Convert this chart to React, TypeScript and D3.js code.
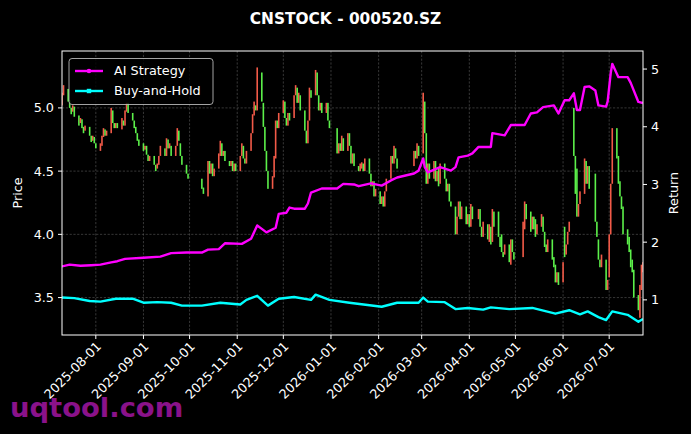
import * as d3 from "d3";

const W = 691;
const H = 434;
const M = { left: 62, right: 643, top: 51, bottom: 335 };
const FONT = "DejaVu Sans, sans-serif";

const title = "CNSTOCK - 000520.SZ";
const startDate = "2025-07-10";
const endDate = "2026-07-23";
// 休市日（工作日中的节假日）
const holidays = [
  "2025-10-01", "2025-10-02", "2025-10-03", "2025-10-06", "2025-10-07", "2025-10-08",
  "2026-01-01", "2026-01-02",
  "2026-02-16", "2026-02-17", "2026-02-18", "2026-02-19", "2026-02-20", "2026-02-23",
  "2026-04-06", "2026-05-01", "2026-05-04", "2026-05-05", "2026-06-19",
];

// K线：开盘 / 收盘（按交易日顺序）
const opens = [
  // 2025-07
  5.02, 5.10, 5.15, 5.06, 5.00, 4.97, 5.01, 4.94, 4.88, 4.91, 4.85, 4.82, 4.85, 4.78, 4.74, 4.77,
  // 2025-08
  4.72, 4.66, 4.70, 4.77, 4.83, 4.78, 4.80, 4.98, 4.88, 4.84, 4.88, 4.83, 4.90, 4.86, 4.97, 5.04, 4.96, 4.90, 4.85, 4.80, 4.75,
  // 2025-09
  4.72, 4.67, 4.70, 4.63, 4.58, 4.62, 4.55, 4.52, 4.55, 4.62, 4.68, 4.62, 4.75, 4.68, 4.70, 4.62, 4.70, 4.82, 4.72, 4.62, 4.55, 4.48,
  // 2025-10
  4.44, 4.37, 4.30, 4.58, 4.48, 4.56, 4.46, 4.52, 4.62, 4.72, 4.62, 4.66, 4.58, 4.54, 4.58, 4.50, 4.56,
  // 2025-11
  4.50, 4.62, 4.70, 4.60, 4.56, 4.66, 4.80, 4.94, 5.02, 4.98, 5.28, 5.04, 4.85, 4.66, 4.50, 4.36, 4.45, 4.60, 4.90, 4.84,
  // 2025-12
  4.96, 5.05, 4.92, 4.86, 4.96, 4.92, 5.10, 5.16, 5.04, 5.10, 4.98, 4.82, 4.72, 4.90, 5.14, 5.10, 5.28, 5.10, 4.98, 5.04, 4.96, 5.04, 4.90,
  // 2026-01
  4.84, 4.64, 4.72, 4.66, 4.76, 4.66, 4.80, 4.70, 4.56, 4.64, 4.54, 4.50, 4.52, 4.56, 4.50, 4.60, 4.48, 4.38, 4.42, 4.30,
  // 2026-02
  4.34, 4.24, 4.30, 4.22, 4.34, 4.44, 4.62, 4.56, 4.68, 4.60, 4.54, 4.66, 4.60, 4.70,
  // 2026-03
  4.64, 5.05, 4.80, 4.40, 4.56, 4.44, 4.58, 4.42, 4.52, 4.40, 4.56, 4.44, 4.34, 4.40, 4.26, 4.22, 4.00, 4.14, 4.26, 4.12, 4.22, 4.08,
  // 2026-04
  4.16, 4.06, 4.22, 4.12, 4.20, 4.06, 3.98, 4.08, 3.94, 4.06, 3.94, 4.18, 4.18, 3.98, 4.00, 3.86, 3.84, 3.92, 3.76, 3.96, 3.86,
  // 2026-05
  3.82, 4.04, 4.24, 4.18, 4.04, 4.14, 4.12, 4.00, 4.06, 4.14, 4.02, 3.92, 3.86, 3.96, 3.82, 3.76, 3.62, 3.70,
  // 2026-06
  3.62, 4.06, 3.84, 3.92, 4.02, 5.00, 4.62, 4.52, 4.14, 4.24, 4.32, 4.58, 4.40, 4.54, 4.48, 4.10, 3.96, 3.80, 3.74, 3.80, 3.56,
  // 2026-07
  3.66, 4.00, 4.40, 4.84, 4.62, 4.42, 4.30, 4.22, 4.04, 3.98, 3.88, 3.80, 3.72, 3.52, 3.34, 3.56, 3.70,
];
const closes = [
  // 2025-07
  5.12, 5.18, 5.05, 5.00, 4.95, 5.02, 4.93, 4.86, 4.92, 4.84, 4.80, 4.86, 4.78, 4.73, 4.78, 4.72,
  // 2025-08
  4.68, 4.72, 4.78, 4.84, 4.78, 4.82, 5.00, 4.88, 4.84, 4.88, 4.84, 4.92, 4.86, 4.98, 5.04, 4.96, 4.90, 4.84, 4.80, 4.74, 4.70,
  // 2025-09
  4.66, 4.70, 4.63, 4.58, 4.62, 4.55, 4.50, 4.56, 4.62, 4.70, 4.62, 4.76, 4.68, 4.72, 4.62, 4.70, 4.84, 4.74, 4.62, 4.55, 4.48, 4.44,
  // 2025-10
  4.36, 4.32, 4.58, 4.48, 4.56, 4.46, 4.52, 4.64, 4.74, 4.62, 4.66, 4.58, 4.54, 4.58, 4.50, 4.56, 4.50,
  // 2025-11
  4.62, 4.72, 4.60, 4.56, 4.66, 4.80, 4.95, 5.05, 4.98, 5.32, 5.05, 4.85, 4.66, 4.50, 4.36, 4.46, 4.62, 4.90, 4.84, 4.96,
  // 2025-12
  5.06, 4.92, 4.86, 4.96, 4.90, 5.10, 5.18, 5.04, 5.12, 4.98, 4.82, 4.72, 4.90, 5.16, 5.08, 5.30, 5.10, 4.98, 5.04, 4.96, 5.04, 4.90, 4.84,
  // 2026-01
  4.64, 4.72, 4.66, 4.78, 4.66, 4.80, 4.70, 4.56, 4.64, 4.54, 4.50, 4.56, 4.57, 4.50, 4.60, 4.48, 4.38, 4.42, 4.30, 4.36,
  // 2026-02
  4.24, 4.30, 4.22, 4.34, 4.44, 4.62, 4.56, 4.70, 4.60, 4.52, 4.66, 4.60, 4.72, 4.62,
  // 2026-03
  5.12, 4.80, 4.40, 4.56, 4.44, 4.58, 4.42, 4.50, 4.38, 4.56, 4.44, 4.34, 4.40, 4.26, 4.22, 4.00, 4.14, 4.26, 4.12, 4.22, 4.08, 4.16,
  // 2026-04
  4.06, 4.24, 4.12, 4.20, 4.06, 3.98, 4.10, 3.96, 4.08, 3.92, 4.20, 4.06, 3.98, 3.90, 3.86, 3.82, 3.92, 3.78, 3.96, 3.86, 3.80,
  // 2026-05
  4.10, 4.26, 4.12, 4.02, 4.14, 4.04, 3.98, 4.08, 4.16, 4.02, 3.90, 3.86, 3.96, 3.80, 3.74, 3.62, 3.70, 3.60,
  // 2026-06
  3.78, 3.82, 3.92, 4.02, 4.10, 4.62, 4.32, 4.14, 4.24, 4.34, 4.60, 4.40, 4.54, 4.36, 4.10, 3.98, 3.80, 3.74, 3.84, 3.56, 3.64,
  // 2026-07
  4.00, 4.40, 4.84, 4.60, 4.40, 4.30, 4.20, 4.00, 3.92, 3.86, 3.74, 3.70, 3.50, 3.40, 3.60, 3.76, 3.78,
];

// 收益曲线（右轴）
const aiDates = [
  "2025-07-10", "2025-07-15", "2025-07-22", "2025-07-29", "2025-08-04", "2025-08-11", "2025-08-15", "2025-08-20",
  "2025-09-01", "2025-09-12", "2025-09-19", "2025-09-29", "2025-10-09", "2025-10-13", "2025-10-20", "2025-10-24",
  "2025-11-04", "2025-11-10", "2025-11-14", "2025-11-17", "2025-11-20", "2025-11-26", "2025-11-28", "2025-12-03",
  "2025-12-05", "2025-12-08", "2025-12-15", "2025-12-17", "2025-12-19", "2025-12-26", "2026-01-05", "2026-01-09",
  "2026-01-16", "2026-01-19", "2026-01-27", "2026-02-03", "2026-02-09", "2026-02-13", "2026-02-24", "2026-02-27",
  "2026-03-02", "2026-03-03", "2026-03-05", "2026-03-13", "2026-03-20", "2026-03-23", "2026-03-25", "2026-03-31",
  "2026-04-03", "2026-04-07", "2026-04-15", "2026-04-16", "2026-04-24", "2026-04-28", "2026-05-07", "2026-05-11",
  "2026-05-15", "2026-05-19", "2026-05-26", "2026-05-29", "2026-06-02", "2026-06-05", "2026-06-08", "2026-06-10",
  "2026-06-12", "2026-06-15", "2026-06-18", "2026-06-22", "2026-06-24", "2026-06-29", "2026-06-30", "2026-07-02",
  "2026-07-03", "2026-07-07", "2026-07-13", "2026-07-15", "2026-07-20", "2026-07-23",
];
const aiReturn = [
  1.58, 1.61, 1.59, 1.60, 1.61, 1.65, 1.67, 1.71,
  1.73, 1.75, 1.81, 1.82, 1.82, 1.87, 1.88, 1.98,
  1.97, 2.06, 2.29, 2.23, 2.17, 2.25, 2.49, 2.51,
  2.60, 2.58, 2.58, 2.67, 2.86, 2.93, 2.93, 3.01,
  3.00, 2.97, 3.02, 2.98, 3.07, 3.12, 3.19, 3.24,
  3.45, 3.30, 3.21, 3.30, 3.24, 3.30, 3.47, 3.50,
  3.54, 3.65, 3.65, 3.89, 3.85, 4.03, 4.03, 4.23,
  4.25, 4.34, 4.37, 4.23, 4.46, 4.46, 4.58, 4.29,
  4.29, 4.69, 4.70, 4.63, 4.37, 4.35, 4.44, 4.93,
  5.09, 4.86, 4.86, 4.76, 4.43, 4.41,
];
const bhDates = [
  "2025-07-10", "2025-07-18", "2025-07-28", "2025-08-04", "2025-08-14", "2025-08-25", "2025-09-01", "2025-09-10",
  "2025-09-19", "2025-09-26", "2025-10-09", "2025-10-21", "2025-11-03", "2025-11-07", "2025-11-14", "2025-11-21",
  "2025-11-28", "2025-12-08", "2025-12-19", "2025-12-22", "2025-12-31", "2026-01-13", "2026-02-03", "2026-02-13",
  "2026-02-27", "2026-03-02", "2026-03-05", "2026-03-16", "2026-03-23", "2026-03-31", "2026-04-10", "2026-04-15",
  "2026-04-27", "2026-05-12", "2026-05-27", "2026-06-05", "2026-06-12", "2026-06-17", "2026-06-24", "2026-06-29",
  "2026-07-03", "2026-07-13", "2026-07-20", "2026-07-23",
];
const bhReturn = [
  1.04, 1.03, 0.98, 0.97, 1.02, 1.02, 0.95, 0.96,
  0.95, 0.90, 0.90, 0.95, 0.92, 1.00, 1.07, 0.90,
  1.02, 1.05, 1.00, 1.09, 1.00, 0.95, 0.88, 0.95,
  0.95, 1.04, 0.97, 0.96, 0.84, 0.86, 0.83, 0.87,
  0.84, 0.86, 0.76, 0.82, 0.75, 0.80, 0.70, 0.65,
  0.80, 0.74, 0.62, 0.67,
];

const priceTicks = [3.5, 4.0, 4.5, 5.0];
const returnTicks = [1, 2, 3, 4, 5];
const monthTicks = [
  "2025-08-01", "2025-09-01", "2025-10-01", "2025-11-01", "2025-12-01", "2026-01-01",
  "2026-02-01", "2026-03-01", "2026-04-01", "2026-05-01", "2026-06-01", "2026-07-01",
];

const parse = d3.utcParse("%Y-%m-%d");
const UP = "#f25a48";
const DOWN = "#5cf04a";
const AI = "#ff00ff";
const BH = "#00ffff";

export default function App() {
  const start = parse(startDate) as Date;
  const end = parse(endDate) as Date;
  const hol = new Set(holidays);
  const fmt = d3.utcFormat("%Y-%m-%d");
  const tradeDays = d3.utcDay
    .range(start, d3.utcDay.offset(end, 1))
    .filter((d) => d.getUTCDay() > 0 && d.getUTCDay() < 6 && !hol.has(fmt(d)));
  const n = Math.min(tradeDays.length, opens.length, closes.length);

  const x = d3.scaleUtc().domain([start, end]).range([M.left, M.right]);
  const yP = d3.scaleLinear().domain([3.204, 5.45]).range([M.bottom, M.top]);
  const yR = d3.scaleLinear().domain([0.391, 5.313]).range([M.bottom, M.top]);

  const aiLine = d3
    .line<number>()
    .x((_, i) => x(parse(aiDates[i]) as Date))
    .y((d) => yR(d));
  const bhLine = d3
    .line<number>()
    .x((_, i) => x(parse(bhDates[i]) as Date))
    .y((d) => yR(d));

  const candles = d3.range(n).map((i) => ({
    d: tradeDays[i],
    o: opens[i],
    c: closes[i],
  }));

  return (
    <svg
      width={W}
      height={H}
      style={{ position: "absolute", left: 0, top: 0 }}
      fontFamily={FONT}
    >
      <rect width={W} height={H} fill="#000" />
      <defs>
        <clipPath id="plot">
          <rect x={M.left} y={M.top} width={M.right - M.left} height={M.bottom - M.top} />
        </clipPath>
      </defs>

      {/* 网格 */}
      <g stroke="#5a5a5a" strokeWidth={0.6} strokeDasharray="2.2,1.6">
        {monthTicks.map((t) => (
          <line key={t} x1={x(parse(t) as Date)} x2={x(parse(t) as Date)} y1={M.top} y2={M.bottom} />
        ))}
        {priceTicks.map((t) => (
          <line key={t} x1={M.left} x2={M.right} y1={yP(t)} y2={yP(t)} />
        ))}
      </g>

      {/* K线 */}
      <g clipPath="url(#plot)">
        {candles.map((k, i) => {
          const top = yP(Math.max(k.o, k.c));
          const bot = yP(Math.min(k.o, k.c));
          return (
            <rect
              key={i}
              x={x(k.d) - 0.8}
              width={1.6}
              y={top}
              height={Math.max(1, bot - top)}
              fill={k.c >= k.o ? UP : DOWN}
            />
          );
        })}
      </g>

      {/* 收益曲线 */}
      <g clipPath="url(#plot)" fill="none" strokeWidth={2.4} strokeLinejoin="round">
        <path d={aiLine(aiReturn) || ""} stroke={AI} />
        <path d={bhLine(bhReturn) || ""} stroke={BH} />
      </g>

      {/* 坐标框 */}
      <rect
        x={M.left}
        y={M.top}
        width={M.right - M.left}
        height={M.bottom - M.top}
        fill="none"
        stroke="#fff"
        strokeWidth={1}
      />

      {/* 左轴 */}
      <g fill="#fff" fontSize={12.8} textAnchor="end">
        {priceTicks.map((t) => (
          <g key={t}>
            <line x1={M.left - 4} x2={M.left} y1={yP(t)} y2={yP(t)} stroke="#fff" />
            <text x={M.left - 8} y={yP(t)} dy="0.35em">
              {t.toFixed(1)}
            </text>
          </g>
        ))}
      </g>
      {/* 右轴 */}
      <g fill="#fff" fontSize={12.8} textAnchor="start">
        {returnTicks.map((t) => (
          <g key={t}>
            <line x1={M.right} x2={M.right + 4} y1={yR(t)} y2={yR(t)} stroke="#fff" />
            <text x={M.right + 8} y={yR(t)} dy="0.35em">
              {t}
            </text>
          </g>
        ))}
      </g>
      {/* 时间轴 */}
      <g fill="#fff" fontSize={12.8} textAnchor="end">
        {monthTicks.map((t) => {
          const px = x(parse(t) as Date);
          return (
            <g key={t}>
              <line x1={px} x2={px} y1={M.bottom} y2={M.bottom + 4} stroke="#fff" />
              <text transform={`translate(${px + 3},${M.bottom + 9}) rotate(-45)`} dy="0.35em">
                {t}
              </text>
            </g>
          );
        })}
      </g>

      {/* 轴标题 */}
      <text
        transform={`translate(22,${(M.top + M.bottom) / 2}) rotate(-90)`}
        fill="#fff"
        fontSize={12.8}
        textAnchor="middle"
      >
        Price
      </text>
      <text
        transform={`translate(678,${(M.top + M.bottom) / 2}) rotate(-90)`}
        fill="#fff"
        fontSize={12.8}
        textAnchor="middle"
      >
        Return
      </text>
      <text x={W / 2} y={24} fill="#fff" fontSize={15.4} fontWeight="bold" textAnchor="middle">
        {title}
      </text>

      {/* 图例 */}
      <g>
        <rect x={69} y={58.5} width={144} height={46} rx={3} fill="#000" fillOpacity={0.8} stroke="#cccccc" strokeOpacity={0.8} />
        <line x1={75} x2={103} y1={71} y2={71} stroke={AI} strokeWidth={2.4} />
        <circle cx={89} cy={71} r={2.3} fill={AI} />
        <text x={114} y={71} dy="0.35em" fill="#fff" fontSize={12.8}>
          AI Strategy
        </text>
        <line x1={75} x2={103} y1={91} y2={91} stroke={BH} strokeWidth={2.4} />
        <rect x={86.8} y={88.8} width={4.4} height={4.4} fill={BH} />
        <text x={114} y={91} dy="0.35em" fill="#fff" fontSize={12.8}>
          Buy-and-Hold
        </text>
      </g>

      {/* 水印 */}
      <text x={10} y={417} fill="#8a128a" fontSize={27.4} fontWeight="bold">
        uqtool.com
      </text>
    </svg>
  );
}
